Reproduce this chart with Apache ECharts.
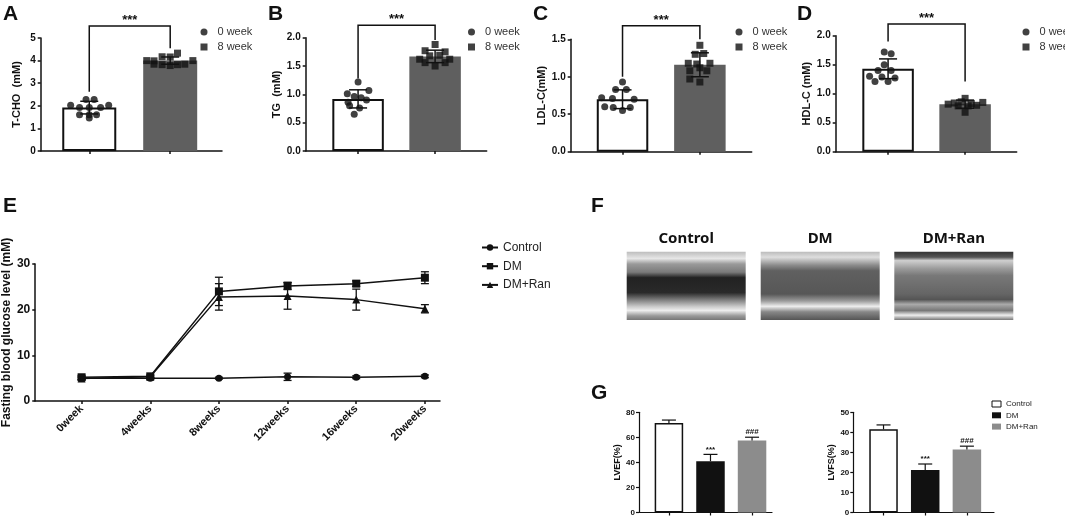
<!DOCTYPE html>
<html><head><meta charset="utf-8">
<script src="https://cdn.jsdelivr.net/npm/echarts@6/dist/echarts.min.js"></script>
<style>html,body{margin:0;padding:0;background:#fff}#c{width:1065px;height:518px}</style>
</head><body><div id="c"></div>
<script>
// ---------- DATA ----------
const lipidGroups = ['0 week', '8 week'];
// Panel A  T-CHO
const aMean = [1.92, 4.00];
const aSD = [0.28, 0.16];
const aPts0 = [[-0.04,2.28],[0.06,2.28],[-0.23,2.02],[0.24,2.02],[-0.12,1.93],[0.0,1.93],[0.14,1.93],[-0.12,1.6],[0.0,1.6],[0.09,1.6],[0.0,1.46]];
const aPts8 = [[-0.29,4.0],[-0.2,3.99],[0.28,4.0],[-0.2,3.84],[-0.1,3.82],[0.0,3.78],[0.09,3.82],[0.18,3.84],[-0.1,4.17],[0.0,4.16],[0.09,4.33]];
const aBracket = [2.62, 5.53, 4.55];
// Panel B  TG
const bMean = [0.92, 1.67];
const bSD = [0.16, 0.11];
const bPts0 = [[0,1.22],[-0.14,1.01],[-0.05,0.96],[0.04,0.94],[0.14,1.07],[-0.13,0.86],[0.11,0.9],[-0.11,0.8],[0.02,0.76],[-0.05,0.65]];
const bPts8 = [[0,1.88],[-0.13,1.77],[0.13,1.75],[-0.2,1.62],[-0.07,1.68],[0.06,1.69],[0.19,1.62],[-0.13,1.56],[0.13,1.56],[0,1.5]];
const bBracket = [1.28, 2.22, 1.96];
// Panel C  LDL-C
const cMean = [0.70, 1.16];
const cSD = [0.125, 0.16];
const cPts0 = [[0,0.93],[-0.09,0.83],[0.05,0.83],[-0.27,0.72],[-0.13,0.71],[0.15,0.7],[-0.23,0.6],[-0.12,0.59],[0.1,0.59],[0,0.55]];
const cPts8 = [[0,1.42],[-0.06,1.3],[0.05,1.31],[-0.15,1.18],[-0.04,1.17],[0.13,1.18],[-0.13,1.08],[0,1.12],[0.09,1.08],[-0.13,0.97],[0,0.93]];
const cBracket = [1.0, 1.68, 1.5];
// Panel D  HDL-C
const dMean = [1.43, 0.82];
const dSD = [0.17, 0.07];
const dPts0 = [[-0.05,1.72],[0.04,1.69],[-0.05,1.5],[-0.13,1.4],[0.04,1.4],[-0.24,1.3],[-0.08,1.29],[0.09,1.27],[-0.17,1.21],[0,1.21]];
const dPts8 = [[0,0.92],[-0.14,0.84],[-0.05,0.86],[0.08,0.83],[0.23,0.85],[-0.09,0.79],[0.04,0.79],[0.15,0.8],[-0.22,0.82],[0,0.68]];
const dBracket = [1.9, 2.2, 1.21];
// Panel E  fasting blood glucose
const eWeeks = ['0week','4weeks','8weeks','12weeks','16weeks','20weeks'];
const eGroups = ['Control','DM','DM+Ran'];
const eControl = [5.0, 5.0, 5.0, 5.3, 5.2, 5.4];
const eControlSD = [0.3, 0.2, 0.2, 0.8, 0.3, 0.3];
const eDM = [5.2, 5.4, 24.0, 25.2, 25.7, 27.0];
const eDMSD = [0.4, 0.3, 3.1, 0.8, 0.6, 1.3];
const eRan = [4.9, 5.3, 22.8, 23.0, 22.2, 20.2];
const eRanSD = [0.3, 0.2, 2.9, 2.9, 2.3, 0.9];
// Panel G  echo function
const gGroups = ['Control','DM','DM+Ran'];
const lvef = [71.5, 41.0, 57.5];
const lvefSD = [2.3, 5.4, 2.6];
const lvfs = [41.5, 21.2, 31.4];
const lvfsSD = [2.2, 3.0, 1.7];
const gMarks = ['', '***', '###'];
const fTitles = ['Control','DM','DM+Ran'];

// ---------- BUILD ----------
const FONT = '"Liberation Sans", Arial, sans-serif';
const INK = '#111';
const axisLS = {color: INK, width: 1.5};
const grids = [], xAxes = [], yAxes = [], series = [], legends = [];

function errSeries(gi, data, o) {
  return {
    type: 'custom', xAxisIndex: gi, yAxisIndex: gi, silent: true, clip: false, z: o.z || 4,
    encode: {x: 0, y: 1}, data: data,
    renderItem: function (params, api) {
      const x = api.value(0), m = api.value(1), s = api.value(2);
      const hi = api.coord([x, m + s]);
      const lo = o.upperOnly ? api.coord([x, m]) : api.coord([x, m - s]);
      const st = {stroke: INK, lineWidth: o.lw};
      const ch = [
        {type: 'line', shape: {x1: hi[0], y1: hi[1], x2: lo[0], y2: lo[1]}, style: st},
        {type: 'line', shape: {x1: hi[0] - o.cap, y1: hi[1], x2: hi[0] + o.cap, y2: hi[1]}, style: st}
      ];
      if (!o.upperOnly) ch.push({type: 'line', shape: {x1: lo[0] - o.cap, y1: lo[1], x2: lo[0] + o.cap, y2: lo[1]}, style: st});
      if (o.marks) {
        const t = o.marks[params.dataIndex];
        if (t) ch.push({type: 'text', style: {text: t, x: hi[0], y: hi[1] - 1, align: 'center', verticalAlign: 'bottom', font: 'bold 8px ' + FONT, fill: INK}});
      }
      return {type: 'group', children: ch};
    }
  };
}

function lipidPanel(p) {
  const gi = grids.length;
  grids.push({left: p.left, top: p.top, width: p.width, height: p.height});
  xAxes.push({gridIndex: gi, type: 'value', min: p.xmin, max: p.xmax,
    axisLine: {show: true, onZero: false, lineStyle: axisLS}, axisTick: {show: true, customValues: [0, 1], length: 3, lineStyle: axisLS},
    axisLabel: {show: false}, splitLine: {show: false}});
  yAxes.push({gridIndex: gi, type: 'value', min: 0, max: p.ymax, interval: p.yint,
    name: p.yname, nameLocation: 'middle', nameGap: 18,
    nameTextStyle: {fontFamily: FONT, fontWeight: 'bold', fontSize: 11, color: INK},
    axisLine: {show: true, onZero: false, lineStyle: axisLS}, axisTick: {show: true, length: 3, lineStyle: axisLS},
    axisLabel: {margin: 5, fontFamily: FONT, fontWeight: 'bold', fontSize: 10, color: INK,
      formatter: v => p.yint < 1 ? v.toFixed(1) : String(v)},
    splitLine: {show: false}});
  series.push({type: 'bar', xAxisIndex: gi, yAxisIndex: gi, barWidth: p.barW, silent: true, z: 2,
    data: p.mean.map((m, i) => ({value: [i, m], itemStyle: i === 0 ? {color: '#fff', borderColor: INK, borderWidth: 2} : {color: '#5f5f5f'}}))});
  series.push(errSeries(gi, p.mean.map((m, i) => [i, m, p.sd[i]]), {cap: 9, lw: 1.5, z: 4}));
  series.push({type: 'scatter', name: lipidGroups[0], xAxisIndex: gi, yAxisIndex: gi, symbol: 'circle', symbolSize: 7, z: 5,
    itemStyle: {color: INK}, data: p.pts0.map(d => [0 + d[0], d[1]])});
  series.push({type: 'scatter', name: lipidGroups[1], xAxisIndex: gi, yAxisIndex: gi, symbol: 'rect', symbolSize: 7, z: 5,
    itemStyle: {color: INK}, data: p.pts8.map(d => [1 + d[0], d[1]])});
  series.push({type: 'custom', xAxisIndex: gi, yAxisIndex: gi, silent: true, clip: false, z: 6,
    encode: {x: 0, y: 2}, data: [[0, 1, p.bracket[0], p.bracket[1], p.bracket[2]]],
    renderItem: function (params, api) {
      const s = api.coord([api.value(0), api.value(2)]);
      const t0 = api.coord([api.value(0), api.value(3)]);
      const t1 = api.coord([api.value(1), api.value(3)]);
      const e = api.coord([api.value(1), api.value(4)]);
      return {type: 'group', children: [
        {type: 'polyline', shape: {points: [s, t0, t1, e]}, style: {stroke: INK, lineWidth: 1.5, fill: 'none'}},
        {type: 'text', style: {text: '***', x: (t0[0] + t1[0]) / 2, y: t0[1] + 1, align: 'center', verticalAlign: 'bottom', font: 'bold 13px ' + FONT, fill: INK}}
      ]};
    }});
  legends.push({orient: 'vertical', left: p.legLeft, top: 20.5, itemWidth: 7, itemHeight: 7, itemGap: 2,
    selectedMode: false, textStyle: {fontFamily: FONT, fontSize: 11, color: '#333', lineHeight: 13, padding: [0, 0, 0, 5]},
    data: [{name: lipidGroups[0], icon: 'circle', itemStyle: {color: INK}}, {name: lipidGroups[1], icon: 'rect', itemStyle: {color: INK}}]});
}

lipidPanel({left: 40.7, top: 38, width: 181.3, height: 113, xmin: -0.6, xmax: 1.64, ymax: 5, yint: 1, yname: 'T-CHO  (mM)', barW: 54,
  mean: aMean, sd: aSD, pts0: aPts0, pts8: aPts8, bracket: aBracket, legLeft: 195.5});
lipidPanel({left: 305.7, top: 37.7, width: 181, height: 113.3, xmin: -0.68, xmax: 1.67, ymax: 2, yint: 0.5, yname: 'TG  (mM)', barW: 51.5,
  mean: bMean, sd: bSD, pts0: bPts0, pts8: bPts8, bracket: bBracket, legLeft: 463});
lipidPanel({left: 570.7, top: 39.3, width: 181, height: 112.4, xmin: -0.67, xmax: 1.67, ymax: 1.5, yint: 0.5, yname: 'LDL-C(mM)', barW: 51.5,
  mean: cMean, sd: cSD, pts0: cPts0, pts8: cPts8, bracket: cBracket, legLeft: 730.5});
lipidPanel({left: 835.7, top: 35.7, width: 181, height: 116, xmin: -0.68, xmax: 1.67, ymax: 2, yint: 0.5, yname: 'HDL-C (mM)', barW: 51.5,
  mean: dMean, sd: dSD, pts0: dPts0, pts8: dPts8, bracket: dBracket, legLeft: 1017.5});

// ---- Panel E ----
(function () {
  const gi = grids.length;
  grids.push({left: 32.3, top: 264, width: 407.7, height: 137});
  const idx = eWeeks.map((w, i) => i);
  xAxes.push({gridIndex: gi, type: 'value', min: -0.675, max: 5.22,
    axisLine: {show: true, onZero: false, lineStyle: axisLS}, axisTick: {show: true, customValues: idx, length: 3, lineStyle: axisLS},
    axisLabel: {customValues: idx, rotate: 45, margin: 6, fontFamily: FONT, fontWeight: 'bold', fontSize: 11, color: INK,
      formatter: v => eWeeks[Math.round(v)]},
    splitLine: {show: false}});
  yAxes.push({gridIndex: gi, type: 'value', min: 0, max: 30, interval: 10,
    name: 'Fasting blood glucose level (mM)', nameLocation: 'middle', nameGap: 19,
    nameTextStyle: {fontFamily: FONT, fontWeight: 'bold', fontSize: 12, color: INK},
    axisLine: {show: true, onZero: false, lineStyle: axisLS}, axisTick: {show: true, length: 3, lineStyle: axisLS},
    axisLabel: {margin: 5, fontFamily: FONT, fontWeight: 'bold', fontSize: 12, color: INK},
    splitLine: {show: false}});
  const sets = [[eControl, eControlSD, 'circle', 7], [eDM, eDMSD, 'rect', 8], [eRan, eRanSD, 'triangle', 8]];
  sets.forEach((s, k) => {
    series.push({type: 'line', name: eGroups[k], xAxisIndex: gi, yAxisIndex: gi, symbol: s[2], symbolSize: s[3], z: 3,
      lineStyle: {color: INK, width: 1.5}, itemStyle: {color: INK}, data: s[0].map((v, i) => [i, v])});
    series.push(errSeries(gi, s[0].map((v, i) => [i, v, s[1][i]]), {cap: 4, lw: 1.3, z: 4}));
  });
  legends.push({orient: 'vertical', left: 476, top: 235.5, itemWidth: 16, itemHeight: 8, itemGap: 4.7, selectedMode: false,
    textStyle: {fontFamily: FONT, fontSize: 12, color: '#222', lineHeight: 14},
    data: eGroups});
})();

// ---- Panel G ----
const gColors = [{color: '#fff', borderColor: INK, borderWidth: 1.5}, {color: '#111'}, {color: '#8c8c8c'}];
function lvPanel(p) {
  const gi = grids.length;
  grids.push({left: p.left, top: 412.3, width: p.width, height: 100.2});
  xAxes.push({gridIndex: gi, type: 'value', min: p.xmin, max: p.xmax,
    axisLine: {show: true, onZero: false, lineStyle: {color: INK, width: 1.2}}, axisTick: {show: true, customValues: [0, 1, 2], length: 3, lineStyle: {color: INK, width: 1.2}},
    axisLabel: {show: false}, splitLine: {show: false}});
  yAxes.push({gridIndex: gi, type: 'value', min: 0, max: p.ymax, interval: p.yint,
    name: p.yname, nameLocation: 'middle', nameGap: p.nameGap,
    nameTextStyle: {fontFamily: FONT, fontWeight: 'bold', fontSize: 9, color: INK},
    axisLine: {show: true, onZero: false, lineStyle: {color: INK, width: 1.2}}, axisTick: {show: true, length: 3, lineStyle: {color: INK, width: 1.2}},
    axisLabel: {margin: 4, fontFamily: FONT, fontWeight: 'bold', fontSize: 8, color: INK},
    splitLine: {show: false}});
  gGroups.forEach((g, i) => {
    series.push({type: 'bar', name: g, xAxisIndex: gi, yAxisIndex: gi, barWidth: 28.5, barGap: '-100%', silent: true, z: 2,
      itemStyle: gColors[i], data: [[i, p.vals[i]]]});
  });
  series.push(errSeries(gi, p.vals.map((v, i) => [i, v, p.sd[i]]), {cap: 7, lw: 1.2, upperOnly: true, marks: gMarks, z: 4}));
}
lvPanel({left: 639, width: 133, xmin: -0.72, xmax: 2.48, ymax: 80, yint: 20, yname: 'LVEF(%)', nameGap: 11, vals: lvef, sd: lvefSD});
lvPanel({left: 853.3, width: 140.7, xmin: -0.725, xmax: 2.65, ymax: 50, yint: 10, yname: 'LVFS(%)', nameGap: 8, vals: lvfs, sd: lvfsSD});
legends.push({orient: 'vertical', left: 986.5, top: 394, itemWidth: 9, itemHeight: 6, itemGap: 1.3, selectedMode: false,
  textStyle: {fontFamily: FONT, fontSize: 8, color: '#222', lineHeight: 10},
  data: [{name: 'Control', icon: 'rect', itemStyle: {color: '#fff', borderColor: INK, borderWidth: 1}},
         {name: 'DM', icon: 'rect', itemStyle: {color: '#111', borderWidth: 0}},
         {name: 'DM+Ran', icon: 'rect', itemStyle: {color: '#8c8c8c', borderWidth: 0}}]});

// ---- Panel F (echo images as simplified gradients) + panel letters ----
const LG = (stops) => new echarts.graphic.LinearGradient(0, 0, 0, 1, stops.map(s => ({offset: s[0], color: s[1]})));
const fFills = [
  LG([[0,'#bdbdbd'],[0.1,'#e6e6e6'],[0.18,'#9a9a9a'],[0.3,'#7a7a7a'],[0.38,'#222'],[0.6,'#2a2a2a'],[0.7,'#7a7a7a'],[0.8,'#c8c8c8'],[0.86,'#eeeeee'],[0.94,'#999'],[1,'#777']]),
  LG([[0,'#bbb'],[0.08,'#dedede'],[0.2,'#8a8a8a'],[0.28,'#606060'],[0.62,'#575757'],[0.72,'#9a9a9a'],[0.8,'#eeeeee'],[0.88,'#888'],[1,'#555']]),
  LG([[0,'#333'],[0.08,'#555'],[0.13,'#cfcfcf'],[0.25,'#9a9a9a'],[0.35,'#787878'],[0.62,'#656565'],[0.7,'#555'],[0.77,'#aaa'],[0.86,'#777'],[0.93,'#eeeeee'],[1,'#777']])
];
const fX = [626.7, 760.7, 894.3];
const graphics = [];
fTitles.forEach((t, i) => {
  graphics.push({type: 'text', x: fX[i] + 59.5, y: 239, style: {text: t, font: 'bold 15px "Noto Sans", sans-serif', fill: INK, align: 'center', verticalAlign: 'middle'}});
  graphics.push({type: 'rect', shape: {x: fX[i], y: 251.7, width: 119, height: 68.3}, style: {fill: fFills[i]}});
});
[['A', 3, 4], ['B', 268, 4], ['C', 533, 4], ['D', 797, 4], ['E', 3, 196], ['F', 591, 196], ['G', 591, 383]].forEach(l => {
  graphics.push({type: 'text', x: l[1], y: l[2], style: {text: l[0], font: 'bold 21px ' + FONT, fill: INK, align: 'left', verticalAlign: 'top'}});
});

const chart = echarts.init(document.getElementById('c'), null, {width: 1065, height: 518});
chart.setOption({
  animation: false, backgroundColor: '#fff',
  grid: grids, xAxis: xAxes, yAxis: yAxes, series: series, legend: legends, graphic: graphics
});
</script>
</body></html>
